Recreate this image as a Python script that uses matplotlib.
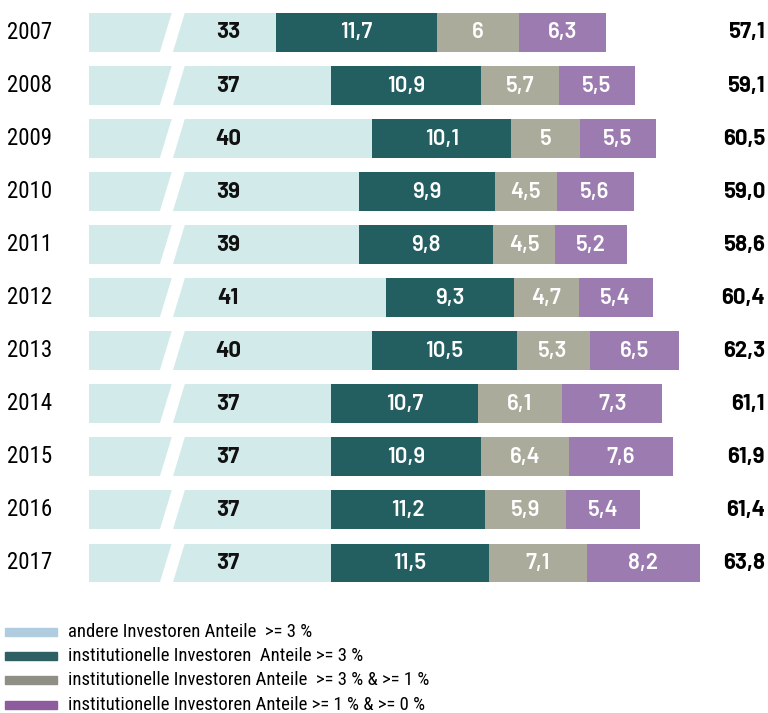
import matplotlib.pyplot as plt
from matplotlib.patches import Polygon, Rectangle

years = ['2007', '2008', '2009', '2010', '2011', '2012', '2013', '2014', '2015', '2016', '2017']
andere = [33, 37, 40, 39, 39, 41, 40, 37, 37, 37, 37]
inst_3 = [11.7, 10.9, 10.1, 9.9, 9.8, 9.3, 10.5, 10.7, 10.9, 11.2, 11.5]
inst_3_1 = [6, 5.7, 5, 4.5, 4.5, 4.7, 5.3, 6.1, 6.4, 5.9, 7.1]
inst_1_0 = [6.3, 5.5, 5.5, 5.6, 5.2, 5.4, 6.5, 7.3, 7.6, 5.4, 8.2]
totals = [57.1, 59.1, 60.5, 59.0, 58.6, 60.4, 62.3, 61.1, 61.9, 61.4, 63.8]

legend_labels = ['andere Investoren Anteile  >= 3 %',
                 'institutionelle Investoren  Anteile >= 3 %',
                 'institutionelle Investoren Anteile  >= 3 % & >= 1 %',
                 'institutionelle Investoren Anteile >= 1 % & >= 0 %']

bar_colors = ['#d3eaea', '#235e61', '#abab9c', '#9c7cb0']
legend_colors = ['#b0cde0', '#2d5f63', '#8f8f85', '#8c5c9c']
text_colors = ['#111111', 'white', 'white', 'white']

plt.rcParams['font.family'] = ['Roboto Condensed', 'DejaVu Sans']
num_font = ['Barlow', 'DejaVu Sans']

W, H = 768, 713
fig = plt.figure(figsize=(W / 100, H / 100), dpi=100)
ax = fig.add_axes([89 / W, (H - 600) / H, 679 / W, 600 / H])

x0 = 19.4
x1 = x0 + 679 / 13.75
ax.set_xlim(x0, x1)
ax.set_ylim(10.70, -0.612)
ax.axis('off')

bh = 0.73
ys = list(range(len(years)))
series = [andere, inst_3, inst_3_1, inst_1_0]

left = [0] * len(years)
for k, vals in enumerate(series):
    ax.barh(ys, vals, left=left, height=bh, color=bar_colors[k], linewidth=0)
    for i, v in enumerate(vals):
        lab = ('%g' % v).replace('.', ',')
        if k == 0:
            ax.text(0.205, ys[i], lab, transform=ax.get_yaxis_transform(),
                    ha='center', va='center', fontsize=16, fontweight=700,
                    family=num_font, color=text_colors[k])
        else:
            ax.text(left[i] + v / 2, ys[i], lab, ha='center', va='center',
                    fontsize=16, fontweight=600, family=num_font,
                    color=text_colors[k])
    left = [l + v for l, v in zip(left, vals)]

# white slash marking the broken axis
for y in ys:
    top, bot = y - bh / 2 - 0.05, y + bh / 2 + 0.05
    ax.add_patch(Polygon([(24.50, bot), (25.45, bot), (26.42, top), (25.47, top)],
                         closed=True, color='white', zorder=3, linewidth=0))

for i, y in enumerate(ys):
    ax.text(-0.121, y, years[i], transform=ax.get_yaxis_transform(), ha='left',
            va='center', fontsize=16.5, clip_on=False)
    ax.text(0.9956, y, ('%.1f' % totals[i]).replace('.', ','),
            transform=ax.get_yaxis_transform(), ha='right', va='center',
            fontsize=16, fontweight=700, family=num_font, clip_on=False)

# legend
for k, lab in enumerate(legend_labels):
    yc = 632 + k * 24.2
    fig.patches.append(Rectangle((5 / W, 1 - (yc + 4) / H), 52 / W, 8 / H,
                                 transform=fig.transFigure, color=legend_colors[k]))
    fig.text(68 / W, 1 - yc / H, lab, ha='left', va='center', fontsize=13.5)

fig.savefig('out.png', dpi=100)
